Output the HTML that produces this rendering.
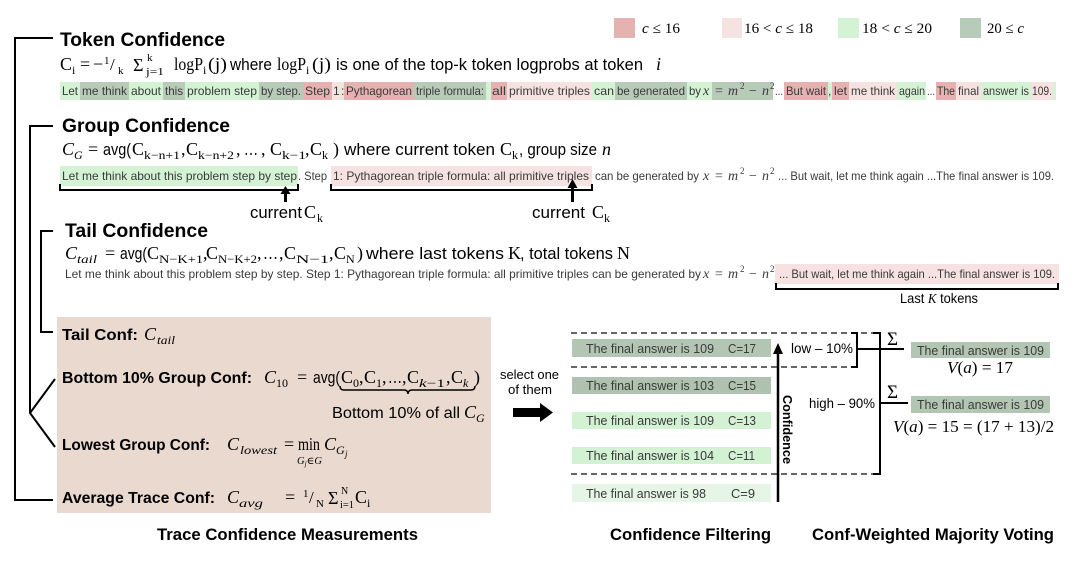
<!DOCTYPE html>
<html><head><meta charset="utf-8"><style>
html,body{margin:0;padding:0;background:#fff;}
svg{display:block}
.s{font-family:"Liberation Sans",sans-serif;}
.m{font-family:"Liberation Serif","DejaVu Serif",serif;}
.b{font-weight:bold;}
.i{font-style:italic;}
.r{fill:#3a3a3a;}
</style></head><body>
<svg width="1080" height="563" viewBox="0 0 1080 563" xmlns="http://www.w3.org/2000/svg">
<!-- Legend -->
<rect x="614" y="18" width="21" height="20" fill="#e6b1b1"/>
<rect x="722" y="18" width="20" height="20" fill="#f7e2e2"/>
<rect x="838" y="18" width="21" height="20" fill="#d4f2d4"/>
<rect x="960" y="18" width="21" height="20" fill="#b8cab8"/>
<text class="m" font-size="15" x="642" y="33" textLength="38" lengthAdjust="spacingAndGlyphs"><tspan class="i">c</tspan> ≤ 16</text>
<text class="m" font-size="15" x="744" y="33" textLength="69" lengthAdjust="spacingAndGlyphs">16 &lt; <tspan class="i">c</tspan> ≤ 18</text>
<text class="m" font-size="15" x="862" y="33" textLength="70" lengthAdjust="spacingAndGlyphs">18 &lt; <tspan class="i">c</tspan> ≤ 20</text>
<text class="m" font-size="15" x="987" y="33" textLength="37" lengthAdjust="spacingAndGlyphs">20 ≤ <tspan class="i">c</tspan></text>

<!-- Left brackets -->
<g stroke="#000" stroke-width="2" fill="none">
<path d="M53,38 H15 V500 H53"/>
<path d="M53,126 H30 V413 M55,379 L30,413 L55,447"/>
<path d="M53,231 H41 V332 H53"/>
</g>

<!-- Token Confidence -->
<text class="s b" font-size="19" x="60" y="46" textLength="165" lengthAdjust="spacingAndGlyphs">Token Confidence</text>
<g class="m">
<text font-size="18" x="60" y="70">C</text>
<text font-size="12" x="72" y="74">i</text>
<text font-size="18" x="80" y="70">=</text>
<text font-size="18" x="93" y="70">−</text>
<text font-size="11" x="104" y="64">1</text>
<text font-size="17" x="110" y="70">/</text>
<text font-size="11" x="118" y="74">k</text>
<text font-size="18" x="133" y="71">Σ</text>
<text font-size="11" x="147" y="61">k</text>
<text font-size="11" x="146" y="75" textLength="18" lengthAdjust="spacingAndGlyphs">j=1</text>
<text font-size="18" x="174" y="70" textLength="29" lengthAdjust="spacingAndGlyphs">logP</text>
<text font-size="12" x="203" y="74">i</text>
<text font-size="18" x="208" y="70" textLength="19" lengthAdjust="spacingAndGlyphs">(j)</text>
<text font-size="18" x="277" y="70" textLength="29" lengthAdjust="spacingAndGlyphs">logP</text>
<text font-size="12" x="306" y="74">i</text>
<text font-size="18" x="312" y="70" textLength="19" lengthAdjust="spacingAndGlyphs">(j)</text>
<text font-size="18" x="656" y="70" class="i">i</text>
</g>
<text class="s" font-size="17" x="230" y="70" textLength="42" lengthAdjust="spacingAndGlyphs">where</text>
<text class="s" font-size="17" x="336" y="70" textLength="307" lengthAdjust="spacingAndGlyphs">is one of the top-k token logprobs at token</text>

<!-- Token row -->
<g>
<rect x="60" y="82" width="20" height="18" fill="#d4f2d4"/>
<rect x="80" y="82" width="49" height="18" fill="#b8cab8"/>
<rect x="129" y="82" width="34" height="18" fill="#d4f2d4"/>
<rect x="163" y="82" width="22" height="18" fill="#b8cab8"/>
<rect x="185" y="82" width="74" height="18" fill="#d4f2d4"/>
<rect x="259" y="82" width="44" height="18" fill="#b8cab8"/>
<rect x="303" y="82" width="29" height="18" fill="#e6b1b1"/>
<rect x="332" y="82" width="9" height="18" fill="#f7e2e2"/>
<rect x="341" y="82" width="3" height="18" fill="#d4f2d4"/>
<rect x="344" y="82" width="70" height="18" fill="#e6b1b1"/>
<rect x="414" y="82" width="72" height="18" fill="#b8cab8"/>
<rect x="486" y="82" width="5" height="18" fill="#d4f2d4"/>
<rect x="491" y="82" width="16" height="18" fill="#e6b1b1"/>
<rect x="507" y="82" width="85" height="18" fill="#f7e2e2"/>
<rect x="592" y="82" width="23" height="18" fill="#d4f2d4"/>
<rect x="615" y="82" width="72" height="18" fill="#b8cab8"/>
<rect x="687" y="82" width="25" height="18" fill="#d4f2d4"/>
<rect x="712" y="82" width="61" height="18" fill="#b8cab8"/>
<rect x="784" y="82" width="44" height="18" fill="#e6b1b1"/>
<rect x="828" y="82" width="4" height="18" fill="#d4f2d4"/>
<rect x="832" y="82" width="17" height="18" fill="#e6b1b1"/>
<rect x="849" y="82" width="48" height="18" fill="#f7e2e2"/>
<rect x="897" y="82" width="29" height="18" fill="#d4f2d4"/>
<rect x="936" y="82" width="20" height="18" fill="#e6b1b1"/>
<rect x="956" y="82" width="25" height="18" fill="#f7e2e2"/>
<rect x="981" y="82" width="50" height="18" fill="#d4f2d4"/>
<rect x="1031" y="82" width="22" height="18" fill="#f7e2e2"/>
<rect x="1053" y="82" width="3" height="18" fill="#d4f2d4"/>
</g>
<g class="s r" font-size="12">
<text x="62" y="95" textLength="16" lengthAdjust="spacingAndGlyphs">Let</text>
<text x="82" y="95" textLength="45" lengthAdjust="spacingAndGlyphs">me think</text>
<text x="131" y="95" textLength="30" lengthAdjust="spacingAndGlyphs">about</text>
<text x="165" y="95" textLength="18" lengthAdjust="spacingAndGlyphs">this</text>
<text x="187" y="95" textLength="70" lengthAdjust="spacingAndGlyphs">problem step</text>
<text x="261" y="95" textLength="40" lengthAdjust="spacingAndGlyphs">by step.</text>
<text x="305" y="95" textLength="25" lengthAdjust="spacingAndGlyphs">Step</text>
<text x="333" y="95">1</text>
<text x="341" y="95">:</text>
<text x="346" y="95" textLength="66" lengthAdjust="spacingAndGlyphs">Pythagorean</text>
<text x="416" y="95" textLength="68" lengthAdjust="spacingAndGlyphs">triple formula:</text>
<text x="492" y="95" textLength="14" lengthAdjust="spacingAndGlyphs">all</text>
<text x="509" y="95" textLength="81" lengthAdjust="spacingAndGlyphs">primitive triples</text>
<text x="594" y="95" textLength="20" lengthAdjust="spacingAndGlyphs">can</text>
<text x="617" y="95" textLength="68" lengthAdjust="spacingAndGlyphs">be generated</text>
<text x="689" y="95" textLength="12" lengthAdjust="spacingAndGlyphs">by</text>
<text x="775" y="95" textLength="8" lengthAdjust="spacingAndGlyphs">...</text>
<text x="786" y="95" textLength="40" lengthAdjust="spacingAndGlyphs">But wait</text>
<text x="828" y="95">,</text>
<text x="834" y="95" textLength="13" lengthAdjust="spacingAndGlyphs">let</text>
<text x="851" y="95" textLength="44" lengthAdjust="spacingAndGlyphs">me think</text>
<text x="899" y="95" textLength="26" lengthAdjust="spacingAndGlyphs">again</text>
<text x="927" y="95" textLength="8" lengthAdjust="spacingAndGlyphs">...</text>
<text x="937" y="95" textLength="18" lengthAdjust="spacingAndGlyphs">The</text>
<text x="958" y="95" textLength="21" lengthAdjust="spacingAndGlyphs">final</text>
<text x="983" y="95" textLength="46" lengthAdjust="spacingAndGlyphs">answer is</text>
<text x="1032" y="95" textLength="20" lengthAdjust="spacingAndGlyphs">109.</text>
</g>
<g class="m r" font-size="14">
<text x="703" y="95" class="i">x</text>
<text x="715" y="95">=</text>
<text x="728" y="95" class="i">m</text>
<text x="740" y="89" font-size="9">2</text>
<text x="749" y="95">−</text>
<text x="762" y="95" class="i">n</text>
<text x="770" y="89" font-size="9">2</text>
</g>

<!-- Group Confidence -->
<text class="s b" font-size="19" x="62" y="132" textLength="168" lengthAdjust="spacingAndGlyphs">Group Confidence</text>
<g class="m">
<text font-size="18" x="62" y="155" class="i">C</text>
<text font-size="12" x="74" y="159" class="i">G</text>
<text font-size="18" x="88" y="155">=</text>
<text font-size="18" x="132" y="155">C</text>
<text font-size="12" x="144" y="159" textLength="36" lengthAdjust="spacingAndGlyphs">k−n+1</text>
<text font-size="18" x="181" y="155">,</text>
<text font-size="18" x="186" y="155">C</text>
<text font-size="12" x="198" y="159" textLength="36" lengthAdjust="spacingAndGlyphs">k−n+2</text>
<text font-size="18" x="236" y="155">,</text>
<text font-size="18" x="244" y="155" textLength="14" lengthAdjust="spacingAndGlyphs">…</text>
<text font-size="18" x="261" y="155">,</text>
<text font-size="18" x="270" y="155">C</text>
<text font-size="12" x="282" y="159" textLength="24" lengthAdjust="spacingAndGlyphs">k−1</text>
<text font-size="18" x="305" y="155">,</text>
<text font-size="18" x="310" y="155">C</text>
<text font-size="12" x="322" y="159">k</text>
<text font-size="18" x="333" y="155">)</text>
<text font-size="18" x="500" y="155">C</text>
<text font-size="12" x="512" y="159">k</text>
<text font-size="18" x="602" y="155" class="i">n</text>
</g>
<text class="s" font-size="17" x="103" y="155" textLength="28" lengthAdjust="spacingAndGlyphs">avg(</text>
<text class="s" font-size="17" x="344" y="155" textLength="151" lengthAdjust="spacingAndGlyphs">where current token</text>
<text class="s" font-size="17" x="519" y="155" textLength="78" lengthAdjust="spacingAndGlyphs">, group size</text>

<!-- Group row -->
<rect x="60" y="166" width="238" height="20" fill="#d4f2d4"/>
<rect x="331" y="166" width="261" height="20" fill="#f7e2e2"/>
<g class="s r" font-size="12">
<text x="62" y="180" textLength="235" lengthAdjust="spacingAndGlyphs">Let me think about this problem step by step</text>
<text x="298" y="180" textLength="29" lengthAdjust="spacingAndGlyphs">. Step</text>
<text x="333" y="180" textLength="256" lengthAdjust="spacingAndGlyphs">1: Pythagorean triple formula: all primitive triples</text>
<text x="595" y="180" textLength="104" lengthAdjust="spacingAndGlyphs">can be generated by</text>
<text x="778" y="180" textLength="276" lengthAdjust="spacingAndGlyphs">... But wait, let me think again ...The final answer is 109.</text>
</g>
<g class="m r" font-size="14">
<text x="703" y="180" class="i">x</text>
<text x="715" y="180">=</text>
<text x="728" y="180" class="i">m</text>
<text x="740" y="174" font-size="9">2</text>
<text x="749" y="180">−</text>
<text x="762" y="180" class="i">n</text>
<text x="770" y="174" font-size="9">2</text>
</g>
<g stroke="#000" stroke-width="2" fill="none">
<path d="M60,184 V190 H298 V184"/>
<path d="M331,184 V190 H592 V184"/>
<path d="M285.5,202 V192" stroke-width="3"/>
<path d="M572.5,202 V185" stroke-width="3"/>
</g>
<polygon points="285.5,186 280.5,194 290.5,194" fill="#000"/>
<polygon points="572.5,179 567.5,188 577.5,188" fill="#000"/>
<text class="s" font-size="17" x="250" y="218" textLength="52" lengthAdjust="spacingAndGlyphs">current</text>
<text class="m" font-size="18" x="304" y="218">C</text>
<text class="m" font-size="12" x="317" y="222">k</text>
<text class="s" font-size="17" x="532" y="218" textLength="53" lengthAdjust="spacingAndGlyphs">current</text>
<text class="m" font-size="18" x="592" y="218">C</text>
<text class="m" font-size="12" x="604" y="222">k</text>

<!-- Tail Confidence -->
<text class="s b" font-size="19" x="65" y="237" textLength="143" lengthAdjust="spacingAndGlyphs">Tail Confidence</text>
<g class="m">
<text font-size="18" x="65" y="259" class="i">C</text>
<text font-size="12" x="77" y="263" class="i" textLength="20" lengthAdjust="spacingAndGlyphs">tail</text>
<text font-size="18" x="105" y="259">=</text>
<text font-size="18" x="147" y="259">C</text>
<text font-size="12" x="159" y="263" textLength="44" lengthAdjust="spacingAndGlyphs">N−K+1</text>
<text font-size="18" x="203" y="259">,</text>
<text font-size="18" x="206" y="259">C</text>
<text font-size="12" x="218" y="263" textLength="39" lengthAdjust="spacingAndGlyphs">N−K+2</text>
<text font-size="18" x="257" y="259">,</text>
<text font-size="18" x="263" y="259" textLength="15" lengthAdjust="spacingAndGlyphs">…</text>
<text font-size="18" x="279" y="259">,</text>
<text font-size="18" x="284" y="259">C</text>
<text font-size="12" x="296" y="263" textLength="33" lengthAdjust="spacingAndGlyphs">N−1</text>
<text font-size="18" x="329" y="259">,</text>
<text font-size="18" x="334" y="259">C</text>
<text font-size="12" x="346" y="263">N</text>
<text font-size="18" x="357" y="259">)</text>
<text font-size="18" x="508" y="259">K</text>
<text font-size="18" x="617" y="259">N</text>
</g>
<text class="s" font-size="17" x="120" y="259" textLength="27" lengthAdjust="spacingAndGlyphs">avg(</text>
<text class="s" font-size="17" x="366" y="259" textLength="138" lengthAdjust="spacingAndGlyphs">where last tokens</text>
<text class="s" font-size="17" x="520" y="259" textLength="93" lengthAdjust="spacingAndGlyphs">, total tokens</text>

<!-- Tail row -->
<rect x="775" y="264" width="284" height="20" fill="#f7e2e2"/>
<g class="s r" font-size="12">
<text x="65" y="278" textLength="636" lengthAdjust="spacingAndGlyphs">Let me think about this problem step by step. Step 1: Pythagorean triple formula: all primitive triples can be generated by</text>
<text x="779" y="278" textLength="276" lengthAdjust="spacingAndGlyphs">... But wait, let me think again ...The final answer is 109.</text>
</g>
<g class="m r" font-size="14">
<text x="703" y="278" class="i">x</text>
<text x="715" y="278">=</text>
<text x="728" y="278" class="i">m</text>
<text x="740" y="272" font-size="9">2</text>
<text x="749" y="278">−</text>
<text x="762" y="278" class="i">n</text>
<text x="770" y="272" font-size="9">2</text>
</g>
<path d="M776,283 V289 H1058 V283" stroke="#000" stroke-width="2" fill="none"/>
<text class="s" font-size="14" x="900" y="303" textLength="78" lengthAdjust="spacingAndGlyphs">Last <tspan class="m i">K</tspan> tokens</text>

<!-- Brown box -->
<rect x="57" y="317" width="434" height="196" fill="#e9d9cf"/>
<text class="s b" font-size="16" x="62" y="340" textLength="76" lengthAdjust="spacingAndGlyphs">Tail Conf:</text>
<text class="m i" font-size="18" x="144" y="340">C</text>
<text class="m i" font-size="12" x="157" y="344" textLength="18" lengthAdjust="spacingAndGlyphs">tail</text>

<text class="s b" font-size="16" x="62" y="383" textLength="190" lengthAdjust="spacingAndGlyphs">Bottom 10% Group Conf:</text>
<g class="m">
<text font-size="18" x="264" y="383" class="i">C</text>
<text font-size="12" x="276" y="387" textLength="12" lengthAdjust="spacingAndGlyphs">10</text>
<text font-size="18" x="297" y="383">=</text>
<text font-size="18" x="341" y="383">C</text>
<text font-size="12" x="353" y="387">0</text>
<text font-size="18" x="359" y="383">,</text>
<text font-size="18" x="364" y="383">C</text>
<text font-size="12" x="376" y="387">1</text>
<text font-size="18" x="382" y="383">,</text>
<text font-size="18" x="388" y="383" textLength="14" lengthAdjust="spacingAndGlyphs">…</text>
<text font-size="18" x="402" y="383">,</text>
<text font-size="18" x="407" y="383">C</text>
<text font-size="12" x="419" y="387" textLength="26" lengthAdjust="spacingAndGlyphs"><tspan class="i">k</tspan>−1</text>
<text font-size="18" x="446" y="383">,</text>
<text font-size="18" x="451" y="383">C</text>
<text font-size="12" x="463" y="387" class="i">k</text>
<text font-size="18" x="474" y="383">)</text>
</g>
<text class="s" font-size="17" x="313" y="383" textLength="27" lengthAdjust="spacingAndGlyphs">avg(</text>
<path d="M340,386 Q340,390 344,390 H404 Q408,390 408,394 Q408,390 412,390 H471 Q475,390 475,386" stroke="#000" stroke-width="1.5" fill="none"/>
<text class="s" font-size="16" x="332" y="418" textLength="128" lengthAdjust="spacingAndGlyphs">Bottom 10% of all</text>
<text class="m i" font-size="18" x="464" y="418">C</text>
<text class="m i" font-size="12" x="476" y="422">G</text>

<text class="s b" font-size="16" x="62" y="450" textLength="148" lengthAdjust="spacingAndGlyphs">Lowest Group Conf:</text>
<g class="m">
<text font-size="18" x="227" y="450" class="i">C</text>
<text font-size="12" x="240" y="454" class="i" textLength="37" lengthAdjust="spacingAndGlyphs">lowest</text>
<text font-size="18" x="284" y="450">=</text>
<text font-size="18" x="298" y="450" textLength="22" lengthAdjust="spacingAndGlyphs">min</text>
<text font-size="10" x="297" y="464" class="i" textLength="25" lengthAdjust="spacingAndGlyphs">G<tspan font-size="7" dy="2">j</tspan><tspan dy="-2">∈G</tspan></text>
<text font-size="18" x="324" y="450" class="i">C</text>
<text font-size="12" x="336" y="454" class="i">G</text>
<text font-size="9" x="345" y="457" class="i">j</text>
</g>

<text class="s b" font-size="16" x="62" y="503" textLength="153" lengthAdjust="spacingAndGlyphs">Average Trace Conf:</text>
<g class="m">
<text font-size="18" x="227" y="503" class="i">C</text>
<text font-size="12" x="239" y="507" class="i" textLength="24" lengthAdjust="spacingAndGlyphs">avg</text>
<text font-size="18" x="285" y="503">=</text>
<text font-size="11" x="303" y="497">1</text>
<text font-size="17" x="309" y="503">/</text>
<text font-size="11" x="316" y="507">N</text>
<text font-size="18" x="328" y="504">Σ</text>
<text font-size="10" x="341" y="494">N</text>
<text font-size="10" x="340" y="508" textLength="14" lengthAdjust="spacingAndGlyphs">i=1</text>
<text font-size="18" x="355" y="503">C</text>
<text font-size="12" x="367" y="507">i</text>
</g>

<text class="s b" font-size="17" x="157" y="540" textLength="261" lengthAdjust="spacingAndGlyphs">Trace Confidence Measurements</text>

<!-- select arrow -->
<text class="s" font-size="13" x="500" y="379" textLength="59" lengthAdjust="spacingAndGlyphs">select one</text>
<text class="s" font-size="13" x="508" y="394" textLength="44" lengthAdjust="spacingAndGlyphs">of them</text>
<polygon points="513,408 540,408 540,403 553,412.5 540,422 540,417 513,417" fill="#000"/>

<!-- Filtering rows -->
<rect x="572" y="339" width="199" height="18" fill="#b3c6b3"/>
<rect x="572" y="377" width="199" height="17" fill="#afc2af"/>
<rect x="572" y="412" width="199" height="17" fill="#d3f1d3"/>
<rect x="572" y="447" width="199" height="17" fill="#d3f1d3"/>
<rect x="572" y="484" width="199" height="18" fill="#e6f6e6"/>
<g class="s r" font-size="13">
<text x="586" y="353" textLength="128" lengthAdjust="spacingAndGlyphs">The final answer is 109</text>
<text x="728" y="353" textLength="28" lengthAdjust="spacingAndGlyphs">C=17</text>
<text x="586" y="390" textLength="128" lengthAdjust="spacingAndGlyphs">The final answer is 103</text>
<text x="728" y="390" textLength="28" lengthAdjust="spacingAndGlyphs">C=15</text>
<text x="586" y="425" textLength="128" lengthAdjust="spacingAndGlyphs">The final answer is 109</text>
<text x="728" y="425" textLength="28" lengthAdjust="spacingAndGlyphs">C=13</text>
<text x="586" y="460" textLength="128" lengthAdjust="spacingAndGlyphs">The final answer is 104</text>
<text x="728" y="460" textLength="27" lengthAdjust="spacingAndGlyphs">C=11</text>
<text x="586" y="498" textLength="120" lengthAdjust="spacingAndGlyphs">The final answer is 98</text>
<text x="731" y="498" textLength="24" lengthAdjust="spacingAndGlyphs">C=9</text>
</g>
<g stroke="#333" stroke-width="1.5" stroke-dasharray="6 4" fill="none">
<path d="M571,333 H876"/>
<path d="M571,367 H853"/>
<path d="M571,474 H876"/>
</g>
<g stroke="#000" stroke-width="2" fill="none">
<path d="M851,333 H857 V367 H851"/>
<path d="M873,333 H880 V474 H873"/>
<path d="M857,349 H904"/>
<path d="M880,403 H908"/>
<path d="M778,502 V352" stroke-width="2.5"/>
</g>
<polygon points="778,343 773,354 783,354" fill="#000"/>
<text class="s b" font-size="13" transform="translate(783,395) rotate(90)" x="0" y="0" textLength="69" lengthAdjust="spacingAndGlyphs">Confidence</text>
<text class="s" font-size="14" x="791" y="353" textLength="62" lengthAdjust="spacingAndGlyphs">low – 10%</text>
<text class="s" font-size="14" x="809" y="408" textLength="66" lengthAdjust="spacingAndGlyphs">high – 90%</text>
<text class="m" font-size="19" x="887" y="345">Σ</text>
<text class="m" font-size="19" x="887" y="398">Σ</text>

<rect x="911" y="342" width="139" height="16" fill="#b3c6b3"/>
<text class="s r" font-size="13" x="917" y="355" textLength="127" lengthAdjust="spacingAndGlyphs">The final answer is 109</text>
<text class="m" font-size="17" x="947" y="373" textLength="66" lengthAdjust="spacingAndGlyphs"><tspan class="i">V</tspan>(<tspan class="i">a</tspan>) = 17</text>
<rect x="911" y="396" width="139" height="17" fill="#b3c6b3"/>
<text class="s r" font-size="13" x="917" y="409" textLength="127" lengthAdjust="spacingAndGlyphs">The final answer is 109</text>
<text class="m" font-size="17" x="893" y="432" textLength="161" lengthAdjust="spacingAndGlyphs"><tspan class="i">V</tspan>(<tspan class="i">a</tspan>) = 15 = (17 + 13)/2</text>

<text class="s b" font-size="17" x="610" y="540" textLength="161" lengthAdjust="spacingAndGlyphs">Confidence Filtering</text>
<text class="s b" font-size="17" x="812" y="540" textLength="242" lengthAdjust="spacingAndGlyphs">Conf-Weighted Majority Voting</text>
</svg>
</body></html>
